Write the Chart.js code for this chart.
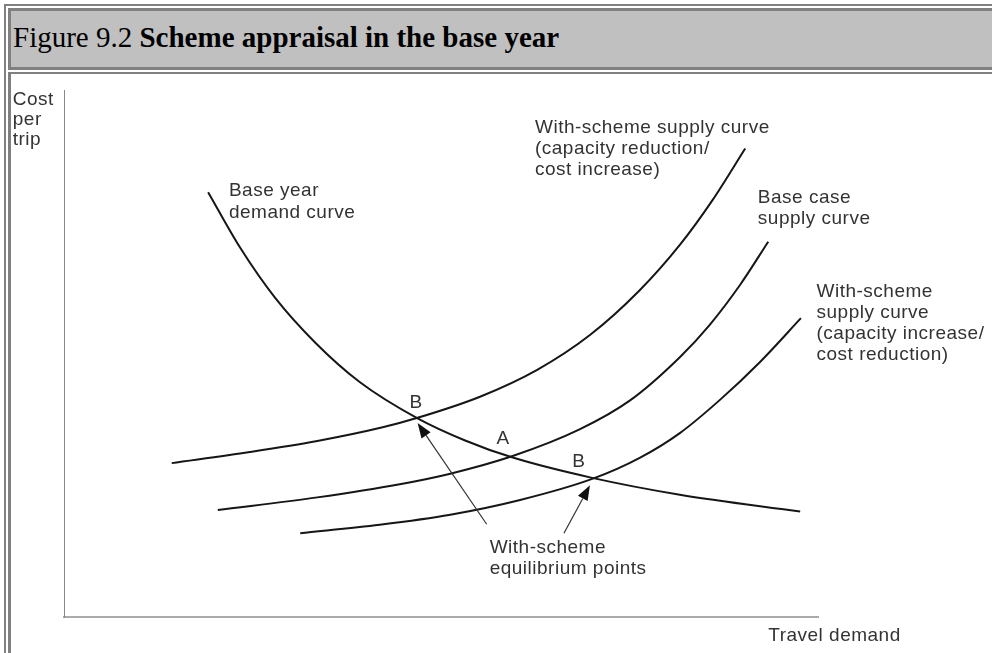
<!DOCTYPE html>
<html><head><meta charset="utf-8">
<script src="https://cdn.jsdelivr.net/npm/chart.js@4.4.0/dist/chart.umd.min.js"></script>
<style>
html,body{margin:0;padding:0;background:#fff;width:992px;height:653px;overflow:hidden}
#outer{position:absolute;left:4px;top:4px;width:1200px;height:800px;border-left:2px solid #808080;border-top:2px solid #808080}
#head{position:absolute;left:8px;top:8px;width:1200px;height:56px;border:3px solid #808080;border-right:none;background:#c0c0c0}
#htext{position:absolute;left:13px;top:23px;font:29px/29px "Liberation Serif","Times New Roman",serif;color:#000;white-space:nowrap}
#body{position:absolute;left:8px;top:72px;width:1200px;height:800px;border-left:3px solid #808080;border-top:2px solid #808080}
#c{position:absolute;left:0;top:0;z-index:2}
</style></head>
<body>
<div id="outer"></div><div id="head"></div><div id="body"></div>
<div id="htext">Figure 9.2 <b>Scheme appraisal in the base year</b></div>
<canvas id="c" width="992" height="653"></canvas>
<script>
// ---- data (travel demand on x, cost per trip on y, arbitrary units) ----
const demandCurve = [[19.4,80.6],[23.7,70.1],[28.4,60.6],[33.8,52.1],[39.8,44.6],[47.6,37.7],[54.0,33.5],[60.3,30.3],[71.1,26.4],[82.9,23.2],[99.1,20.0]];
const supplyReduction = [[14.5,29.2],[25.0,31.3],[34.1,33.4],[42.9,36.0],[47.6,37.8],[56.0,41.8],[63.7,46.9],[70.8,53.5],[77.5,62.0],[82.9,70.6],[87.3,79.1],[91.7,88.9]];
const supplyBase = [[20.7,20.3],[34.1,22.7],[45.2,25.2],[52.0,27.2],[60.3,30.5],[69.4,35.6],[76.2,41.1],[82.9,49.3],[86.9,55.4],[91.0,63.0],[94.8,71.2]];
const supplyIncrease = [[31.8,15.9],[42.5,17.5],[52.0,19.4],[61.4,22.2],[71.1,26.2],[77.5,30.2],[82.9,34.9],[88.3,41.2],[93.7,48.4],[99.2,56.7]];
const xRange = [0, 101.5];
const yRange = [0, 100];
const arrowTails = [[56.9,17.6],[67.3,15.9]];
const arrowTips = [[47.6,36.8],[70.8,25.0]];
const labelTexts = [
  ["Cost","per","trip"],
  ["Base year","demand curve"],
  ["With-scheme supply curve","(capacity reduction/","cost increase)"],
  ["Base case","supply curve"],
  ["With-scheme","supply curve","(capacity increase/","cost reduction)"],
  ["B"],["A"],["B"],
  ["With-scheme","equilibrium points"],
  ["Travel demand"]
];
const labelAnchors = [[-6.9,97.2],[22.2,79.9],[63.4,91.8],[93.4,78.6],[101.3,60.7],[47.4,39.7],[59.1,32.8],[69.3,28.5],[57.3,12.1],[94.8,-4.6]];
const labelAlign = ["left","left","left","left","left","center","center","center","left","left"];
const labelStep = [20,22,21,21,21,21,21,21,21,21];

const toPts = a => a.map(p => ({x:p[0], y:p[1]}));
const curveStyle = {showLine:true, pointRadius:0, borderColor:'#161616', borderWidth:2, cubicInterpolationMode:'monotone', fill:false};

const annot = {
  id:'annot',
  afterDatasetsDraw(chart){
    const {ctx, scales:{x, y}} = chart;
    ctx.save();
    ctx.strokeStyle = '#333'; ctx.fillStyle = '#111'; ctx.lineWidth = 1.2;
    arrowTails.forEach((t,i) => {
      const x0 = x.getPixelForValue(t[0]), y0 = y.getPixelForValue(t[1]);
      const x1 = x.getPixelForValue(arrowTips[i][0]), y1 = y.getPixelForValue(arrowTips[i][1]);
      const ang = Math.atan2(y1-y0, x1-x0);
      const L = 15, W = 5.5;
      const bx = x1 - L*Math.cos(ang), by = y1 - L*Math.sin(ang);
      ctx.beginPath(); ctx.moveTo(x0,y0); ctx.lineTo(bx,by); ctx.stroke();
      ctx.beginPath(); ctx.moveTo(x1,y1);
      ctx.lineTo(bx + W*Math.sin(ang), by - W*Math.cos(ang));
      ctx.lineTo(bx - W*Math.sin(ang), by + W*Math.cos(ang));
      ctx.closePath(); ctx.fill();
    });
    ctx.fillStyle = '#333';
    ctx.font = '19px "Liberation Sans", Arial, sans-serif';
    ctx.textBaseline = 'alphabetic';
    if ('letterSpacing' in ctx) ctx.letterSpacing = '0.5px';
    labelTexts.forEach((lines,i) => {
      const px = x.getPixelForValue(labelAnchors[i][0]);
      const py = y.getPixelForValue(labelAnchors[i][1]);
      ctx.textAlign = labelAlign[i];
      lines.forEach((s,j) => ctx.fillText(s, px, py + j*labelStep[i]));
    });
    ctx.restore();
  }
};

new Chart(document.getElementById('c'), {
  type:'scatter',
  data:{datasets:[
    Object.assign({label:'Base year demand curve', data:toPts(demandCurve)}, curveStyle),
    Object.assign({label:'With-scheme supply curve (capacity reduction/cost increase)', data:toPts(supplyReduction)}, curveStyle),
    Object.assign({label:'Base case supply curve', data:toPts(supplyBase)}, curveStyle),
    Object.assign({label:'With-scheme supply curve (capacity increase/cost reduction)', data:toPts(supplyIncrease)}, curveStyle)
  ]},
  options:{
    responsive:false, animation:false, devicePixelRatio:1,
    layout:{padding:{left:64, right:174, top:90, bottom:36}},
    plugins:{legend:{display:false}, tooltip:{enabled:false}, title:{display:false}},
    scales:{
      x:{type:'linear', min:xRange[0], max:xRange[1], ticks:{display:false}, grid:{display:false, drawTicks:false}, border:{display:true, color:'#aaa', width:2}},
      y:{type:'linear', min:yRange[0], max:yRange[1], ticks:{display:false}, grid:{display:false, drawTicks:false}, border:{display:true, color:'#888', width:1}}
    }
  },
  plugins:[annot]
});
</script>
</body></html>
